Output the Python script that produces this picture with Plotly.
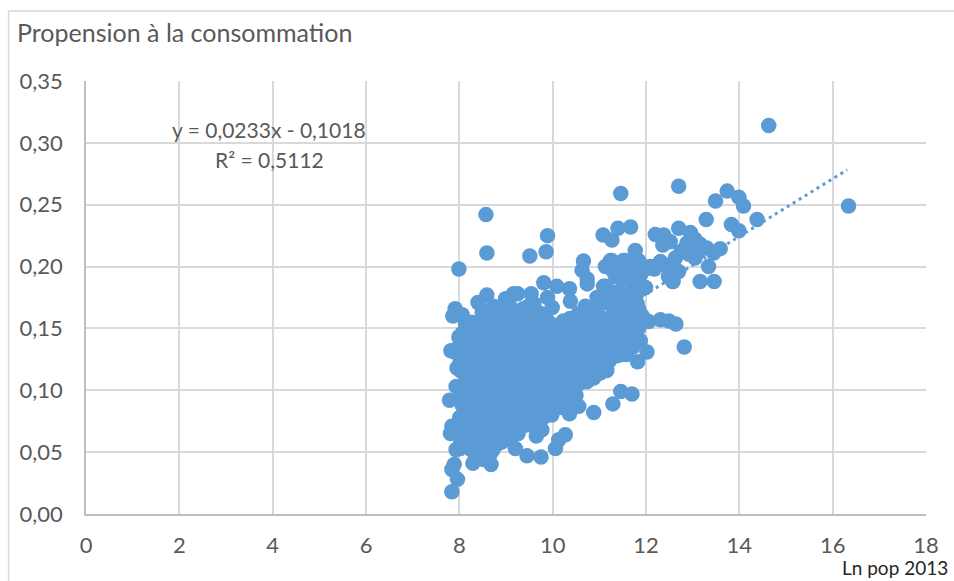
import plotly.graph_objects as go

outer_x = [8.57,8.59,7.99,11.46,12.70,9.89,9.86,9.51,10.66,10.63,10.74,10.74,9.81,10.09,10.36,11.09,
           11.08,11.27,11.40,11.67,12.20,12.38,12.45,12.36,12.70,11.26,11.13,11.52,11.77,11.84,12.31,12.06,
           12.63,12.58,11.99,11.81,12.06,12.31,12.49,12.64,12.82,12.02,11.82,11.66,11.49,11.16,11.02,10.88,
           10.74,11.70,11.46,11.29,10.88,10.56,10.36,10.27,10.13,10.06,9.75,9.45,9.77,9.65,8.68,8.29,9.20,
           7.84,7.96,7.84,7.89,7.93,7.81,7.84,7.79,7.93,7.95,7.82,7.90,7.99,7.86,7.91,8.06,8.13,8.40,8.59,
           8.49,8.60,8.99,9.16,9.25,9.54,9.60,9.99,9.89,10.38,10.55]
outer_y = [.242,.211,.198,.259,.265,.225,.212,.2085,.2045,.197,.190,.186,.187,.184,.182,.184,
           .2255,.2215,.231,.232,.226,.2255,.2215,.2175,.231,.205,.200,.205,.213,.205,.204,.199,
           .195,.188,.183,.170,.1555,.157,.156,.1535,.135,.131,.123,.143,.129,.116,.114,.110,
           .107,.097,.099,.089,.082,.087,.081,.064,.060,.053,.046,.047,.068,.063,.040,.041,.053,
           .018,.028,.036,.040,.052,.065,.071,.092,.103,.118,.132,.131,.143,.160,.166,.161,.154,.171,.177,
           .163,.158,.174,.178,.178,.178,.170,.167,.175,.172,.162]

upper_x = [14.63,16.34,13.74,13.49,13.99,14.09,14.38,13.29,13.83,13.99,12.52,12.95,13.05,13.16,13.30,13.59,
           13.45,13.05,12.84,12.63,13.34,13.46,13.16,12.70,12.57,12.29,12.09,11.97,11.24,11.56,12.75,12.92,
           13.12,12.48,12.18,11.95,11.65,11.88,12.42,12.88]
upper_y = [.314,.249,.261,.253,.256,.249,.238,.238,.234,.229,.220,.2275,.222,.218,.215,.2145,
           .211,.207,.215,.207,.200,.188,.188,.196,.188,.203,.200,.183,.205,.205,.212,.210,
           .212,.192,.198,.197,.198,.193,.201,.219]

core_x = [8.03,8.08,8.12,8.05,8.15,8.02,8.10,8.06,8.14,8.09,
          8.21,8.26,8.18,8.30,8.24,8.19,8.28,8.33,8.22,8.27,8.17,8.31,
          8.36,8.42,8.45,8.38,8.48,8.41,8.35,8.46,8.40,8.44,8.37,8.49,
          8.54,8.60,8.56,8.63,8.52,8.58,8.65,8.55,8.61,8.53,8.66,8.59,8.62,
          8.72,8.78,8.70,8.82,8.75,8.69,8.80,8.74,8.84,8.71,8.77,8.81,8.73,
          8.90,8.95,8.88,9.01,8.93,8.87,8.98,9.03,8.91,8.96,9.00,8.89,
          9.08,9.13,9.06,9.18,9.10,9.15,9.05,9.20,9.11,9.17,9.07,9.12,
          9.26,9.32,9.24,9.36,9.29,9.23,9.34,9.27,9.38,9.30,9.25,9.35,
          9.44,9.50,9.42,9.54,9.47,9.41,9.52,9.45,9.56,9.48,9.43,
          9.62,9.68,9.60,9.72,9.65,9.59,9.70,9.63,9.74,9.66,9.61,
          9.80,9.86,9.78,9.90,9.83,9.77,9.88,9.81,9.92,9.84,
          9.98,10.04,9.96,10.08,10.01,9.95,10.06,9.99,10.10,10.02,
          10.16,10.22,10.14,10.26,10.19,10.13,10.24,10.17,10.28,
          10.34,10.40,10.32,10.44,10.37,10.31,10.42,10.35,
          10.50,10.56,10.48,10.60,10.53,10.47,10.58,
          10.66,10.72,10.64,10.76,10.69,10.63]
core_y = [.058,.071,.084,.097,.110,.123,.135,.146,.127,.062,
          .060,.052,.074,.086,.095,.104,.117,.129,.139,.150,.082,.142,
          .048,.062,.076,.088,.099,.110,.121,.133,.145,.155,.068,.128,
          .050,.058,.070,.081,.092,.103,.114,.125,.136,.147,.158,.164,.118,
          .052,.064,.075,.087,.098,.108,.119,.130,.141,.152,.162,.104,.168,
          .058,.069,.080,.091,.102,.113,.124,.135,.146,.157,.166,.096,
          .060,.072,.083,.094,.105,.116,.127,.138,.149,.160,.169,.110,
          .065,.076,.087,.098,.109,.120,.131,.142,.153,.164,.093,.118,
          .072,.083,.094,.105,.116,.127,.138,.149,.160,.168,.100,
          .074,.086,.097,.108,.119,.130,.141,.152,.162,.104,.125,
          .078,.090,.101,.112,.123,.134,.145,.156,.107,.128,
          .080,.092,.103,.114,.125,.136,.147,.153,.098,.120,
          .086,.096,.107,.118,.129,.140,.150,.112,.124,
          .090,.101,.112,.123,.134,.145,.152,.118,
          .096,.107,.118,.129,.140,.150,.124,
          .112,.123,.134,.145,.155,.162]

fill_x = [8.02,8.04,8.01,8.03,8.05,8.02,8.04,8.00,8.03,8.06,8.02,
          8.13,8.16,8.11,8.14,8.18,8.12,8.15,8.10,8.17,8.13,8.16,
          8.26,8.29,8.24,8.31,8.27,8.25,8.30,8.23,8.28,8.26,8.32,
          8.40,8.43,8.38,8.45,8.41,8.36,8.44,8.39,8.42,8.37,8.46,
          8.52,8.56,8.50,8.58,8.53,8.49,8.57,8.51,8.55,8.54,8.59,
          8.66,8.69,8.64,8.71,8.67,8.62,8.70,8.65,8.68,8.63,8.72,
          8.79,8.83,8.77,8.85,8.80,8.76,8.84,8.78,8.82,8.81,8.86,
          8.93,8.97,8.91,8.99,8.94,8.90,8.98,8.92,8.96,8.95,
          9.06,9.10,9.04,9.12,9.07,9.03,9.11,9.05,9.09,9.08,
          9.20,9.24,9.18,9.26,9.21,9.17,9.25,9.19,9.23,9.22,
          9.34,9.38,9.32,9.40,9.35,9.31,9.39,9.33,9.37,9.36,
          9.48,9.52,9.46,9.54,9.49,9.45,9.53,9.47,9.51,
          9.62,9.66,9.60,9.68,9.63,9.59,9.67,9.61,9.65,
          9.76,9.80,9.74,9.82,9.77,9.73,9.81,9.75,9.79,
          9.90,9.94,9.88,9.96,9.91,9.87,9.95,9.89,
          10.04,10.08,10.02,10.10,10.05,10.01,10.09,10.03,
          10.18,10.22,10.16,10.24,10.19,10.15,10.23,
          10.32,10.36,10.30,10.38,10.33,10.29,10.37,
          10.46,10.50,10.44,10.52,10.47,10.43,
          10.60,10.64,10.58,10.66,10.61,
          10.75,10.79,10.73,10.81,10.84,10.70]
fill_y = [.053,.067,.078,.091,.103,.116,.129,.136,.142,.088,.076,
          .063,.072,.079,.091,.101,.113,.123,.133,.143,.067,.107,
          .056,.067,.078,.090,.101,.112,.123,.135,.146,.155,.095,
          .054,.066,.082,.093,.105,.115,.127,.139,.150,.120,.072,
          .044,.063,.075,.086,.097,.108,.119,.131,.142,.153,.090,
          .048,.069,.081,.092,.103,.113,.124,.135,.146,.157,.085,
          .056,.070,.081,.093,.103,.114,.125,.136,.147,.157,.088,
          .063,.075,.085,.097,.107,.118,.129,.141,.152,.161,
          .066,.078,.089,.100,.111,.122,.133,.144,.155,.165,
          .070,.081,.092,.103,.114,.125,.136,.147,.158,.086,
          .078,.089,.100,.111,.122,.133,.144,.155,.166,.105,
          .078,.089,.100,.111,.122,.133,.144,.155,.165,
          .080,.092,.103,.114,.125,.136,.147,.158,.118,
          .084,.095,.106,.117,.128,.139,.150,.161,.096,
          .086,.098,.109,.120,.131,.142,.153,.156,
          .086,.097,.108,.119,.130,.141,.152,.148,
          .091,.102,.113,.124,.135,.146,.156,
          .095,.106,.117,.128,.139,.150,.158,
          .100,.112,.123,.134,.145,.156,
          .106,.118,.129,.140,.151,
          .113,.125,.136,.147,.158,.168]

mid_x = [10.82,10.90,10.85,10.98,10.92,10.80,11.05,11.12,11.00,11.18,11.08,11.02,11.25,11.32,11.20,11.38,
         11.28,11.22,11.45,11.52,11.40,11.58,11.48,11.42,11.60,11.66,11.55,11.72,11.62,11.68,11.78,11.50,
         11.35,11.15,11.70,11.80,11.58,11.42,11.30,10.95,11.10,11.85,
         10.88,10.96,11.04,11.14,11.22,11.30,11.38,11.46,11.54,11.62,11.70,11.76,11.84,11.30,11.44,11.56,11.72,11.80,
         10.92,11.06,11.16,11.26,11.36,11.50,11.64,11.74,11.88,11.92]
mid_y = [.128,.140,.152,.131,.164,.120,.136,.148,.160,.127,.171,.120,.134,.146,.158,.128,.168,.178,.132,
         .144,.156,.129,.168,.180,.140,.152,.164,.135,.176,.188,.158,.190,.192,.184,.196,.178,.200,.203,.196,.175,.125,.165,
         .134,.146,.158,.142,.124,.152,.136,.150,.136,.146,.158,.148,.150,.162,.174,.174,.182,.188,
         .126,.128,.152,.140,.150,.162,.134,.142,.140,.160]

trend_x = [8.0, 16.31]
trend_y = [0.0846, 0.2782]

xticks = [0,2,4,6,8,10,12,14,16,18]
yticks = [0,.05,.10,.15,.20,.25,.30,.35]

BLUE = "#5B9BD5"
GRID = "#D9D9D9"
GREY = "#595959"
FONT = "Lato"

fig = go.Figure()
fig.add_trace(go.Scatter(x=trend_x, y=trend_y, mode="lines",
                         line=dict(color=BLUE, width=3, dash="3px,4px"), hoverinfo="skip"))
fig.add_trace(go.Scatter(x=outer_x + upper_x + core_x + fill_x + mid_x,
                         y=outer_y + upper_y + core_y + fill_y + mid_y,
                         mode="markers", marker=dict(color=BLUE, size=15.5, line=dict(width=0))))

fig.update_layout(
    width=954, height=581, showlegend=False, separators=", ",
    paper_bgcolor="white", plot_bgcolor="white",
    margin=dict(l=85.5, r=27.5, t=81, b=67, pad=0),
    font=dict(family=FONT, color=GREY, size=22),
    xaxis=dict(range=[0,18], tickvals=xticks, tickformat="d", showgrid=True, gridcolor=GRID, gridwidth=1.5,
               showline=True, linecolor="#BFBFBF", linewidth=1.5, zeroline=False, ticks="", ticklen=0,
               ticklabelstandoff=11, tickfont=dict(size=22, family=FONT, color=GREY)),
    yaxis=dict(range=[0,.35], tickvals=yticks, tickformat=".2f", showgrid=True, gridcolor=GRID, gridwidth=1.5,
               showline=True, linecolor="#BFBFBF", linewidth=1.5, zeroline=False, ticks="", ticklen=0,
               ticklabelstandoff=17, tickfont=dict(size=22, family=FONT, color=GREY)),
    annotations=[
        dict(text="Propension à la consommation", xref="paper", yref="paper", xanchor="left", yanchor="middle",
             x=(14-85.5)/841, y=(514-32)/433, showarrow=False, font=dict(size=25, family=FONT, color=GREY)),
        dict(text="y = 0,0233x - 0,1018", xref="paper", yref="paper", xanchor="center", yanchor="middle",
             x=(269-85.5)/841, y=(514-129)/433, showarrow=False, font=dict(size=21, family=FONT, color=GREY)),
        dict(text="R² = 0,5112", xref="paper", yref="paper", xanchor="center", yanchor="middle",
             x=(269-85.5)/841, y=(514-159)/433, showarrow=False, font=dict(size=21, family=FONT, color=GREY)),
        dict(text="Ln pop 2013", xref="paper", yref="paper", xanchor="right", yanchor="middle",
             x=(951-85.5)/841, y=(514-567)/433, showarrow=False, font=dict(size=19, family=FONT, color="#262626")),
    ],
    shapes=[dict(type="rect", xref="paper", yref="paper",
                 x0=(8-85.5)/841, x1=(960-85.5)/841, y0=(514-590)/433, y1=(514-11)/433,
                 line=dict(color=GRID, width=1.5), fillcolor="rgba(0,0,0,0)", layer="below")],
)

fig.write_html("out.html", config=dict(displayModeBar=False), post_script="document.body.style.margin='0';")
